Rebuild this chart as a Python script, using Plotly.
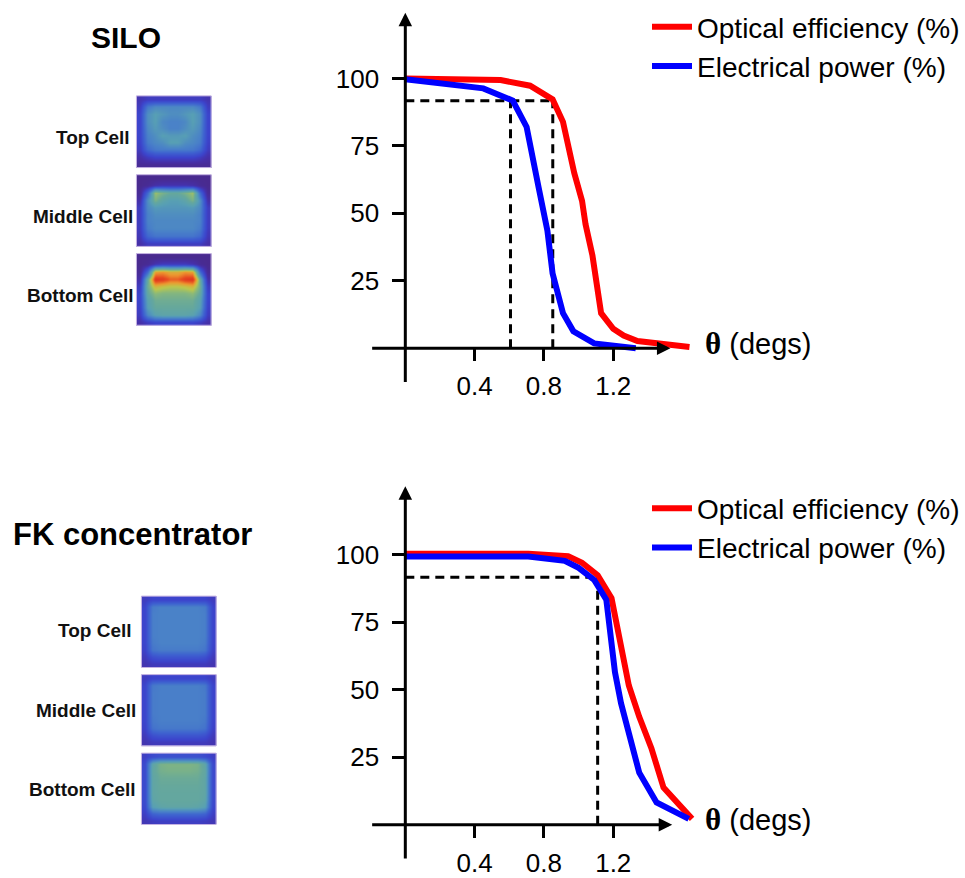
import plotly.graph_objects as go

W, H = 965, 878

# ---- data -------------------------------------------------------------
# SILO: optical efficiency and electrical power vs incidence angle
silo_theta_opt = [0, 0.30, 0.55, 0.72, 0.78, 0.85, 0.91, 0.975, 1.02, 1.04, 1.08, 1.13, 1.20, 1.26, 1.34, 1.50, 1.64]
silo_opt = [100, 99.6, 99.4, 97.3, 95.1, 92.2, 83.9, 64.9, 54.6, 46.0, 34.4, 13.0, 7.2, 4.7, 2.7, 1.5, 0.5]
silo_theta_elec = [0, 0.45, 0.62, 0.70, 0.77, 0.82, 0.85, 0.91, 0.97, 1.09, 1.33]
silo_elec = [99.7, 96.3, 91.8, 82.0, 59.4, 43.6, 27.7, 13.0, 6.3, 1.8, 0.0]
silo_ref_level = 91.7
silo_ref_theta = [0.607, 0.851]

# FK concentrator
fk_theta_opt = [0, 0.71, 0.94, 1.02, 1.11, 1.19, 1.29, 1.35, 1.42, 1.49, 1.655]
fk_opt = [100.4, 100.4, 99.5, 97.1, 92.5, 84.0, 51.6, 40.0, 28.4, 13.8, 2.2]
fk_theta_elec = [0, 0.71, 0.92, 1.00, 1.09, 1.16, 1.21, 1.245, 1.35, 1.45, 1.636]
fk_elec = [99.4, 99.4, 97.8, 95.2, 90.7, 83.4, 56.5, 45.0, 19.3, 8.3, 2.2]
fk_ref_level = 91.7
fk_ref_theta = [1.11]

x_tickvals = [0.4, 0.8, 1.2]
x_ticktext = ["0.4", "0.8", "1.2"]
y_tickvals = [25, 50, 75, 100]
y_ticktext = ["25", "50", "75", "100"]

series_names = ["Optical efficiency (%)", "Electrical power (%)"]
panel_titles = ["SILO", "FK concentrator"]
cell_names = ["Top Cell", "Middle Cell", "Bottom Cell"]

# irradiance maps of the three junctions (rows top -> bottom, normalised)
silo_top_cell = [
    [0.12, 0.15, 0.15, 0.15, 0.15, 0.15, 0.15, 0.15, 0.15, 0.12],
    [0.15, 0.35, 0.40, 0.40, 0.40, 0.40, 0.40, 0.40, 0.35, 0.15],
    [0.18, 0.42, 0.48, 0.45, 0.42, 0.42, 0.45, 0.48, 0.42, 0.18],
    [0.18, 0.42, 0.48, 0.40, 0.38, 0.38, 0.40, 0.48, 0.42, 0.18],
    [0.18, 0.40, 0.46, 0.42, 0.38, 0.38, 0.42, 0.46, 0.40, 0.18],
    [0.18, 0.38, 0.42, 0.48, 0.46, 0.46, 0.48, 0.42, 0.38, 0.18],
    [0.17, 0.36, 0.40, 0.42, 0.48, 0.48, 0.42, 0.40, 0.36, 0.17],
    [0.15, 0.30, 0.35, 0.36, 0.36, 0.36, 0.36, 0.35, 0.30, 0.15],
    [0.10, 0.15, 0.18, 0.18, 0.18, 0.18, 0.18, 0.18, 0.15, 0.10],
    [0.05, 0.05, 0.05, 0.05, 0.05, 0.05, 0.05, 0.05, 0.05, 0.05],
]
silo_middle_cell = [
    [0.03, 0.03, 0.03, 0.03, 0.03, 0.03, 0.03, 0.03, 0.03, 0.03],
    [0.03, 0.05, 0.10, 0.12, 0.12, 0.12, 0.12, 0.10, 0.05, 0.03],
    [0.05, 0.30, 0.66, 0.60, 0.56, 0.56, 0.60, 0.66, 0.30, 0.05],
    [0.10, 0.42, 0.60, 0.52, 0.48, 0.48, 0.52, 0.60, 0.42, 0.10],
    [0.15, 0.40, 0.46, 0.45, 0.45, 0.45, 0.45, 0.46, 0.40, 0.15],
    [0.15, 0.38, 0.42, 0.42, 0.42, 0.42, 0.42, 0.42, 0.38, 0.15],
    [0.15, 0.38, 0.40, 0.40, 0.40, 0.40, 0.40, 0.40, 0.38, 0.15],
    [0.15, 0.36, 0.40, 0.40, 0.40, 0.40, 0.40, 0.40, 0.36, 0.15],
    [0.13, 0.30, 0.34, 0.34, 0.34, 0.34, 0.34, 0.34, 0.30, 0.13],
    [0.10, 0.15, 0.15, 0.15, 0.15, 0.15, 0.15, 0.15, 0.15, 0.10],
]
silo_bottom_cell = [
    [0.03, 0.03, 0.03, 0.03, 0.03, 0.03, 0.03, 0.03, 0.03, 0.03],
    [0.03, 0.05, 0.12, 0.15, 0.15, 0.15, 0.15, 0.12, 0.05, 0.03],
    [0.05, 0.30, 0.78, 0.80, 0.76, 0.76, 0.80, 0.78, 0.30, 0.05],
    [0.10, 0.55, 0.97, 0.95, 0.88, 0.88, 0.95, 0.97, 0.55, 0.10],
    [0.15, 0.58, 0.75, 0.72, 0.70, 0.70, 0.72, 0.75, 0.58, 0.15],
    [0.18, 0.55, 0.64, 0.62, 0.62, 0.62, 0.62, 0.64, 0.55, 0.18],
    [0.18, 0.50, 0.58, 0.58, 0.58, 0.58, 0.58, 0.58, 0.50, 0.18],
    [0.17, 0.48, 0.56, 0.56, 0.56, 0.56, 0.56, 0.56, 0.48, 0.17],
    [0.15, 0.40, 0.50, 0.52, 0.52, 0.52, 0.52, 0.50, 0.40, 0.15],
    [0.10, 0.15, 0.18, 0.18, 0.18, 0.18, 0.18, 0.18, 0.15, 0.10],
]
fk_top_cell = [
    [0.15, 0.18, 0.18, 0.18, 0.18, 0.18, 0.18, 0.18, 0.18, 0.15],
    [0.18, 0.36, 0.38, 0.38, 0.38, 0.38, 0.38, 0.38, 0.36, 0.18],
    [0.18, 0.37, 0.38, 0.38, 0.38, 0.38, 0.38, 0.38, 0.37, 0.18],
    [0.18, 0.37, 0.38, 0.38, 0.38, 0.38, 0.38, 0.38, 0.37, 0.18],
    [0.18, 0.37, 0.38, 0.38, 0.38, 0.38, 0.38, 0.38, 0.37, 0.18],
    [0.18, 0.37, 0.38, 0.38, 0.38, 0.38, 0.38, 0.38, 0.37, 0.18],
    [0.18, 0.36, 0.38, 0.38, 0.38, 0.38, 0.38, 0.38, 0.36, 0.18],
    [0.17, 0.34, 0.36, 0.36, 0.36, 0.36, 0.36, 0.36, 0.34, 0.17],
    [0.14, 0.22, 0.24, 0.24, 0.24, 0.24, 0.24, 0.24, 0.22, 0.14],
    [0.12, 0.14, 0.14, 0.14, 0.14, 0.14, 0.14, 0.14, 0.14, 0.12],
]
fk_middle_cell = [
    [0.15, 0.18, 0.18, 0.18, 0.18, 0.18, 0.18, 0.18, 0.18, 0.15],
    [0.18, 0.35, 0.37, 0.37, 0.37, 0.37, 0.37, 0.37, 0.35, 0.18],
    [0.18, 0.36, 0.37, 0.37, 0.37, 0.37, 0.37, 0.37, 0.36, 0.18],
    [0.18, 0.36, 0.37, 0.37, 0.37, 0.37, 0.37, 0.37, 0.36, 0.18],
    [0.18, 0.36, 0.37, 0.37, 0.37, 0.37, 0.37, 0.37, 0.36, 0.18],
    [0.18, 0.36, 0.37, 0.37, 0.37, 0.37, 0.37, 0.37, 0.36, 0.18],
    [0.18, 0.35, 0.37, 0.37, 0.37, 0.37, 0.37, 0.37, 0.35, 0.18],
    [0.17, 0.33, 0.35, 0.35, 0.35, 0.35, 0.35, 0.35, 0.33, 0.17],
    [0.14, 0.22, 0.24, 0.24, 0.24, 0.24, 0.24, 0.24, 0.22, 0.14],
    [0.12, 0.14, 0.14, 0.14, 0.14, 0.14, 0.14, 0.14, 0.14, 0.12],
]
fk_bottom_cell = [
    [0.16, 0.20, 0.22, 0.22, 0.22, 0.22, 0.22, 0.22, 0.20, 0.16],
    [0.20, 0.52, 0.60, 0.61, 0.61, 0.61, 0.61, 0.60, 0.52, 0.20],
    [0.20, 0.54, 0.59, 0.60, 0.60, 0.60, 0.60, 0.59, 0.54, 0.20],
    [0.20, 0.53, 0.57, 0.57, 0.57, 0.57, 0.57, 0.57, 0.53, 0.20],
    [0.20, 0.53, 0.56, 0.56, 0.56, 0.56, 0.56, 0.56, 0.53, 0.20],
    [0.20, 0.53, 0.55, 0.55, 0.55, 0.55, 0.55, 0.55, 0.53, 0.20],
    [0.20, 0.52, 0.55, 0.55, 0.55, 0.55, 0.55, 0.55, 0.52, 0.20],
    [0.19, 0.48, 0.52, 0.53, 0.53, 0.53, 0.53, 0.52, 0.48, 0.19],
    [0.16, 0.28, 0.30, 0.30, 0.30, 0.30, 0.30, 0.30, 0.28, 0.16],
    [0.13, 0.15, 0.16, 0.16, 0.16, 0.16, 0.16, 0.16, 0.15, 0.13],
]

# ---- styling / layout constants -----------------------------------------
RED, BLUE = "#ff0000", "#0000ff"
FONT = "Liberation Sans, Arial, sans-serif"
irradiance_scale = [
    [0.00, "#4a2884"], [0.10, "#4630a8"], [0.18, "#3c44cc"], [0.28, "#3e62d0"],
    [0.38, "#4a82c8"], [0.48, "#58a0b4"], [0.56, "#66a89c"], [0.63, "#88b87c"],
    [0.70, "#bcc84c"], [0.80, "#ec9a30"], [0.90, "#e84e22"], [1.00, "#d8281c"],
]

X0, XS = 407.0, 174.0          # pixel of theta=0, pixels per degree
YS = 2.73                      # pixels per percent
Y0 = [352.3, 834.3]            # pixel row of 0 % for the two charts
XR = [-0.25, 1.72]
YR = [-16, 126]
LINE_W = 6
DASH = dict(color="black", width=3, dash="9px,6px")


def fx(px):
    return px / W


def fy(py):
    return 1 - py / H


fig = go.Figure()

panels = [
    dict(t_opt=silo_theta_opt, opt=silo_opt, t_el=silo_theta_elec, el=silo_elec,
         level=silo_ref_level, marks=silo_ref_theta,
         cells=[silo_top_cell, silo_middle_cell, silo_bottom_cell]),
    dict(t_opt=fk_theta_opt, opt=fk_opt, t_el=fk_theta_elec, el=fk_elec,
         level=fk_ref_level, marks=fk_ref_theta,
         cells=[fk_top_cell, fk_middle_cell, fk_bottom_cell]),
]

# geometry of the cell maps: x span in px, top and bottom px rows
cell_geo = [
    dict(x=(137, 212), top=97, bottom=329, label_right=[133, 136, 137], label_y=[139, 219, 299],
         title=(127, 38)),
    dict(x=(142, 217), top=603, bottom=834, label_right=[135, 139, 139], label_y=[638, 719, 799],
         title=(133, 541)),
]
arrow_tips = [(1.53, 124.3), (1.54, 125.4)]
CELL_GAP = 0.1

annotations = []
shapes = []

for i, p in enumerate(panels):
    xa, ya = ("x", "y") if i == 0 else ("x2", "y2")
    leg = "legend" if i == 0 else "legend2"

    # dashed guide lines at the acceptance-angle level
    last = max(p["marks"])
    fig.add_trace(go.Scatter(x=[0, last], y=[p["level"], p["level"]], mode="lines", line=DASH,
                             xaxis=xa, yaxis=ya, showlegend=False, hoverinfo="skip"))
    for m in p["marks"]:
        fig.add_trace(go.Scatter(x=[m, m], y=[0, p["level"]], mode="lines", line=DASH,
                                 xaxis=xa, yaxis=ya, showlegend=False, hoverinfo="skip"))

    fig.add_trace(go.Scatter(x=p["t_opt"], y=p["opt"], mode="lines", name=series_names[0],
                             line=dict(color=RED, width=LINE_W), xaxis=xa, yaxis=ya, legend=leg))
    fig.add_trace(go.Scatter(x=p["t_el"], y=p["el"], mode="lines", name=series_names[1],
                             line=dict(color=BLUE, width=LINE_W), xaxis=xa, yaxis=ya, legend=leg))

    # axis lines with arrow heads
    tx, ty = arrow_tips[i]
    annotations.append(dict(x=0, y=ty, ax=0, ay=-13, xref=xa, yref=ya, axref=xa, ayref=ya,
                            text="", showarrow=True, arrowhead=2, arrowsize=0.9,
                            arrowwidth=3, arrowcolor="black"))
    annotations.append(dict(x=tx, y=0, ax=-0.2, ay=0, xref=xa, yref=ya, axref=xa, ayref=ya,
                            text="", showarrow=True, arrowhead=2, arrowsize=0.9,
                            arrowwidth=3, arrowcolor="black"))
    annotations.append(dict(
        x=fx(706), y=fy(Y0[i] - 5), xref="paper", yref="paper", xanchor="left", yanchor="middle",
        text='<span style="font-family:Liberation Serif;font-weight:bold;font-size:31px">θ</span> (degs)',
        showarrow=False, font=dict(family=FONT, size=29, color="black")))

    # cell irradiance maps
    g = cell_geo[i]
    hx, hy = ("x3", "y3") if i == 0 else ("x4", "y4")
    for k, z in enumerate(p["cells"]):
        y_start = k * (1 + CELL_GAP)
        fig.add_trace(go.Heatmap(z=z, x0=0.05, dx=0.1, y0=y_start + 0.05, dy=0.1,
                                 colorscale=irradiance_scale, zmin=0, zmax=1, zsmooth="best",
                                 showscale=False, hoverinfo="skip", xaxis=hx, yaxis=hy))
        shapes.append(dict(type="rect", xref=hx, yref=hy, x0=0, x1=1, y0=y_start, y1=y_start + 1,
                           line=dict(color="#c4b2e2", width=1), layer="above"))
        annotations.append(dict(x=fx(g["label_right"][k]), y=fy(g["label_y"][k]), xref="paper",
                                yref="paper", xanchor="right", yanchor="middle",
                                text="<b>%s</b>" % cell_names[k], showarrow=False,
                                font=dict(family=FONT, size=19, color="#111111")))
    tx_, ty_ = g["title"]
    annotations.append(dict(x=fx(tx_), y=fy(ty_), xref="paper", yref="paper", xanchor="center",
                            yanchor="middle", text="<b>%s</b>" % panel_titles[i], showarrow=False,
                            font=dict(family=FONT, size=31 if i else 30, color="black")))

layout = dict(width=W, height=H, margin=dict(l=0, r=0, t=0, b=0),
              paper_bgcolor="white", plot_bgcolor="white",
              annotations=annotations, shapes=shapes)

for i in range(2):
    xk = "xaxis" if i == 0 else "xaxis2"
    yk = "yaxis" if i == 0 else "yaxis2"
    y_bottom_px = Y0[i] - YR[0] * YS
    y_top_px = Y0[i] - YR[1] * YS
    layout[xk] = dict(range=XR, domain=[fx(X0 + XR[0] * XS), fx(X0 + XR[1] * XS)],
                      anchor="free", position=fy(Y0[i]), showline=False, showgrid=False,
                      zeroline=False, ticks="outside", ticklen=12, tickwidth=3, tickcolor="black",
                      tickvals=x_tickvals, ticktext=x_ticktext, ticklabelstandoff=3,
                      tickfont=dict(family=FONT, size=26, color="black"), fixedrange=True)
    layout[yk] = dict(range=YR, domain=[fy(y_bottom_px), fy(y_top_px)],
                      anchor="free", position=fx(X0), showline=False, showgrid=False,
                      zeroline=False, ticks="outside", ticklen=13, tickwidth=3, tickcolor="black",
                      tickvals=y_tickvals, ticktext=y_ticktext, ticklabelstandoff=8,
                      tickfont=dict(family=FONT, size=26, color="black"), fixedrange=True)

# axes hosting the cell maps
for i in range(2):
    g = cell_geo[i]
    n_units = 3 + 2 * CELL_GAP
    unit_px = (g["bottom"] - g["top"]) / n_units
    pad = 0.03
    xk = "xaxis3" if i == 0 else "xaxis4"
    yk = "yaxis3" if i == 0 else "yaxis4"
    cw = g["x"][1] - g["x"][0]
    layout[xk] = dict(range=[-pad, 1 + pad], domain=[fx(g["x"][0] - pad * cw), fx(g["x"][1] + pad * cw)],
                      visible=False, anchor="y3" if i == 0 else "y4", fixedrange=True)
    layout[yk] = dict(range=[n_units + pad, -pad],
                      domain=[fy(g["bottom"] + pad * unit_px), fy(g["top"] - pad * unit_px)],
                      visible=False, anchor="x3" if i == 0 else "x4", fixedrange=True)

legend_style = dict(xanchor="left", yanchor="top", bgcolor="rgba(0,0,0,0)",
                    font=dict(family=FONT, size=28, color="black"), itemwidth=40,
                    tracegroupgap=0)
layout["legend"] = dict(x=fx(650), y=fy(2), **legend_style)
layout["legend2"] = dict(x=fx(650), y=fy(489), **legend_style)

fig.update_layout(**layout)
fig.write_html("out.html")
